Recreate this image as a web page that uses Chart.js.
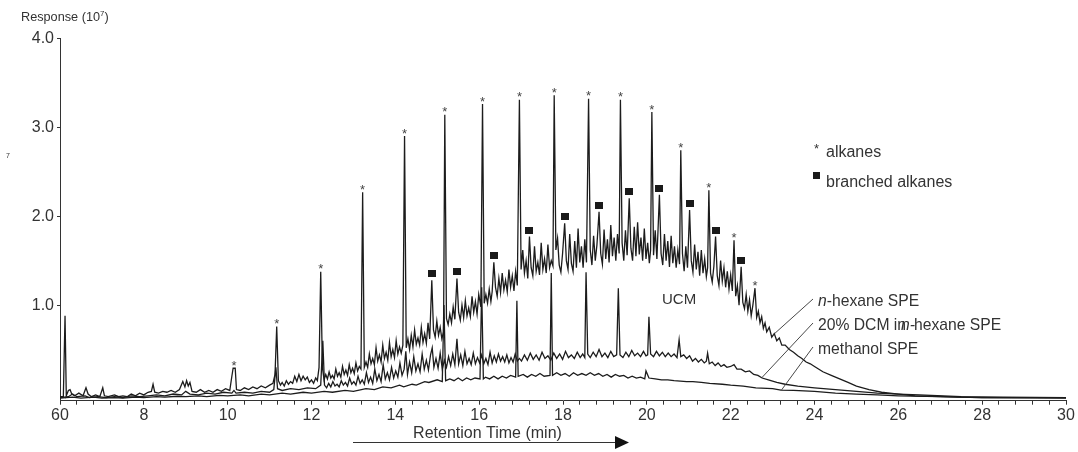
<!DOCTYPE html>
<html><head><meta charset="utf-8">
<script src="https://cdn.jsdelivr.net/npm/chart.js@4.4.1/dist/chart.umd.min.js"></script>
<style>html,body{margin:0;padding:0;background:#fff}#wrap{width:1078px;height:452px}</style>
</head><body><div id="wrap"><canvas id="c" width="1078" height="452"></canvas></div>
<script>
// ---- tick labels ----
const xLabelValues = [6, 8, 10, 12, 14, 16, 18, 20, 22, 24, 26, 28, 30];
const xTickLabels  = ['60', '8', '10', '12', '14', '16', '18', '20', '22', '24', '26', '28', '30'];
const yTickValues  = [1, 2, 3, 4];
const yTickLabels  = ['1.0', '2.0', '3.0', '4.0'];

// ---- series: [retention time (min), response (10^7)] ----
const hexane = [[6.00,-0.03],[6.08,-0.03],[6.12,0.88],[6.15,-0.02],[6.20,0.04],[6.24,0.05],[6.28,0.00],[6.35,-0.02],[6.45,0.01],[6.55,-0.02],[6.62,0.07],[6.67,0.00],[6.75,-0.03],[6.85,-0.01],[6.95,-0.03],[7.02,0.07],[7.06,-0.02],[7.15,-0.03],[7.30,-0.01],[7.40,-0.03],[7.50,-0.02],[7.60,-0.03],[7.70,0.00],[7.80,-0.02],[7.90,0.01],[8.00,-0.01],[8.10,0.02],[8.18,0.03],[8.22,0.11],[8.26,0.02],[8.35,0.01],[8.45,0.03],[8.55,0.02],[8.65,0.04],[8.75,0.02],[8.85,0.05],[8.93,0.14],[8.98,0.08],[9.02,0.15],[9.06,0.09],[9.10,0.13],[9.15,0.03],[9.25,0.02],[9.35,0.05],[9.45,0.02],[9.55,0.04],[9.65,0.02],[9.75,0.05],[9.85,0.03],[9.95,0.06],[10.05,0.04],[10.10,0.20],[10.13,0.29],[10.18,0.29],[10.21,0.05],[10.30,0.04],[10.40,0.07],[10.50,0.05],[10.60,0.08],[10.70,0.06],[10.80,0.09],[10.90,0.07],[11.00,0.10],[11.08,0.12],[11.13,0.22],[11.17,0.76],[11.21,0.15],[11.26,0.10],[11.30,0.13],[11.35,0.09],[11.40,0.15],[11.45,0.11],[11.50,0.14],[11.55,0.12],[11.60,0.20],[11.65,0.14],[11.70,0.22],[11.75,0.15],[11.80,0.20],[11.85,0.16],[11.90,0.19],[11.95,0.13],[12.00,0.16],[12.05,0.12],[12.10,0.18],[12.14,0.15],[12.18,0.30],[12.22,1.375],[12.26,0.30],[12.30,0.16],[12.34,0.22],[12.38,0.17],[12.42,0.25],[12.46,0.18],[12.50,0.21],[12.54,0.17],[12.58,0.28],[12.62,0.20],[12.66,0.24],[12.70,0.19],[12.74,0.31],[12.78,0.22],[12.82,0.27],[12.86,0.21],[12.90,0.33],[12.94,0.24],[12.98,0.29],[13.02,0.23],[13.06,0.35],[13.10,0.26],[13.14,0.31],[13.18,0.28],[13.22,2.27],[13.26,0.30],[13.30,0.36],[13.34,0.30],[13.38,0.45],[13.42,0.34],[13.46,0.40],[13.50,0.33],[13.54,0.52],[13.58,0.37],[13.62,0.44],[13.66,0.36],[13.70,0.55],[13.74,0.40],[13.78,0.47],[13.82,0.38],[13.86,0.58],[13.90,0.42],[13.94,0.50],[13.98,0.41],[14.02,0.60],[14.06,0.45],[14.10,0.53],[14.14,0.46],[14.18,0.55],[14.22,2.90],[14.26,0.52],[14.30,0.62],[14.34,0.50],[14.38,0.66],[14.42,0.53],[14.46,0.72],[14.50,0.56],[14.54,0.63],[14.58,0.55],[14.62,0.75],[14.66,0.58],[14.70,0.68],[14.74,0.57],[14.78,0.80],[14.82,0.62],[14.87,1.28],[14.91,0.72],[14.95,0.64],[14.99,0.82],[15.03,0.66],[15.07,0.75],[15.11,0.62],[15.15,0.70],[15.18,3.14],[15.22,0.85],[15.26,0.78],[15.30,0.90],[15.34,0.80],[15.38,0.98],[15.42,0.84],[15.47,1.30],[15.51,0.92],[15.55,0.83],[15.59,1.00],[15.63,0.86],[15.67,1.05],[15.71,0.88],[15.75,0.97],[15.79,0.87],[15.83,1.10],[15.87,0.92],[15.91,1.04],[15.95,0.90],[15.99,1.12],[16.04,0.98],[16.08,3.26],[16.12,1.02],[16.16,1.12],[16.20,1.02],[16.24,1.18],[16.28,1.04],[16.31,1.15],[16.35,1.48],[16.39,1.20],[16.43,1.10],[16.47,1.30],[16.51,1.14],[16.55,1.36],[16.59,1.17],[16.63,1.28],[16.67,1.15],[16.71,1.40],[16.75,1.20],[16.79,1.33],[16.83,1.16],[16.87,1.38],[16.91,1.22],[16.96,3.31],[17.00,1.40],[17.04,1.62],[17.08,1.36],[17.12,1.50],[17.16,1.30],[17.20,1.77],[17.24,1.42],[17.28,1.33],[17.32,1.66],[17.36,1.38],[17.40,1.48],[17.44,1.34],[17.48,1.70],[17.52,1.40],[17.56,1.52],[17.60,1.36],[17.64,1.68],[17.68,1.42],[17.72,1.50],[17.76,1.44],[17.79,3.36],[17.83,1.62],[17.87,1.75],[17.91,1.45],[17.95,1.37],[17.99,1.58],[18.04,1.92],[18.08,1.50],[18.12,1.40],[18.16,1.80],[18.20,1.47],[18.24,1.38],[18.28,1.72],[18.32,1.42],[18.36,1.86],[18.40,1.48],[18.44,1.66],[18.48,1.42],[18.52,1.74],[18.56,1.48],[18.61,3.32],[18.65,1.62],[18.69,1.45],[18.73,1.78],[18.77,1.50],[18.81,1.68],[18.86,2.05],[18.90,1.58],[18.94,1.46],[18.98,1.85],[19.02,1.52],[19.06,1.74],[19.10,1.48],[19.14,1.90],[19.18,1.55],[19.22,1.76],[19.26,1.50],[19.30,1.80],[19.34,1.58],[19.37,3.31],[19.41,1.70],[19.45,1.50],[19.49,1.84],[19.53,1.56],[19.58,2.20],[19.62,1.64],[19.66,1.50],[19.70,1.88],[19.74,1.55],[19.78,1.93],[19.82,1.57],[19.86,1.76],[19.90,1.50],[19.94,1.86],[19.98,1.52],[20.02,1.70],[20.06,1.47],[20.09,1.62],[20.12,3.17],[20.16,1.56],[20.20,1.84],[20.24,1.52],[20.30,2.24],[20.34,1.58],[20.38,1.45],[20.42,1.80],[20.46,1.50],[20.50,1.72],[20.54,1.43],[20.58,1.78],[20.62,1.47],[20.66,1.66],[20.70,1.42],[20.74,1.62],[20.78,1.46],[20.81,2.74],[20.85,1.58],[20.89,1.38],[20.93,1.66],[20.97,1.42],[21.02,2.07],[21.06,1.50],[21.10,1.37],[21.14,1.68],[21.18,1.40],[21.22,1.60],[21.26,1.33],[21.30,1.62],[21.34,1.36],[21.38,1.52],[21.42,1.32],[21.45,1.42],[21.48,2.29],[21.52,1.36],[21.56,1.26],[21.60,1.44],[21.64,1.77],[21.68,1.33],[21.72,1.22],[21.76,1.50],[21.80,1.27],[21.84,1.42],[21.88,1.20],[21.92,1.38],[21.96,1.18],[22.00,1.34],[22.04,1.16],[22.08,1.73],[22.12,1.10],[22.16,1.22],[22.20,1.00],[22.25,1.43],[22.29,1.03],[22.33,0.96],[22.37,1.12],[22.41,0.93],[22.45,1.06],[22.49,0.88],[22.53,1.00],[22.58,1.19],[22.62,0.86],[22.66,0.93],[22.70,0.80],[22.74,0.87],[22.78,0.74],[22.82,0.80],[22.86,0.70],[22.92,0.75],[22.98,0.64],[23.04,0.68],[23.10,0.60],[23.16,0.63],[23.22,0.55],[23.30,0.55],[23.40,0.50],[23.50,0.47],[23.60,0.43],[23.70,0.40],[23.80,0.36],[23.90,0.34],[24.00,0.31],[24.20,0.25],[24.40,0.21],[24.60,0.17],[24.80,0.13],[25.00,0.09],[25.30,0.05],[25.60,0.02],[26.00,0.00],[26.40,-0.02],[26.80,-0.025],[27.40,-0.035],[28.00,-0.04],[29.00,-0.04],[30.00,-0.04]];

const dcm = [[6.00,-0.04],[6.20,-0.03],[6.30,0.00],[6.40,-0.03],[6.60,-0.02],[6.70,-0.04],[6.90,-0.03],[7.10,-0.04],[7.30,-0.03],[7.50,-0.04],[7.70,-0.02],[7.90,-0.03],[8.10,-0.02],[8.30,-0.01],[8.50,-0.02],[8.70,0.00],[8.90,-0.01],[9.00,0.03],[9.10,0.00],[9.30,-0.01],[9.50,0.01],[9.70,0.00],[9.90,0.02],[10.10,0.01],[10.15,0.04],[10.20,0.01],[10.40,0.02],[10.60,0.01],[10.80,0.03],[11.00,0.02],[11.10,0.05],[11.15,0.30],[11.19,0.06],[11.30,0.04],[11.50,0.06],[11.70,0.05],[11.90,0.07],[12.10,0.06],[12.22,0.10],[12.27,0.60],[12.31,0.10],[12.36,0.07],[12.41,0.12],[12.46,0.08],[12.51,0.14],[12.56,0.09],[12.61,0.11],[12.66,0.08],[12.71,0.15],[12.76,0.10],[12.81,0.13],[12.86,0.09],[12.91,0.18],[12.96,0.11],[13.01,0.14],[13.06,0.10],[13.11,0.20],[13.16,0.12],[13.21,0.16],[13.26,0.11],[13.31,0.24],[13.36,0.13],[13.41,0.19],[13.46,0.12],[13.51,0.28],[13.56,0.15],[13.61,0.22],[13.66,0.14],[13.71,0.33],[13.76,0.17],[13.81,0.24],[13.86,0.16],[13.91,0.30],[13.96,0.18],[14.01,0.26],[14.06,0.19],[14.11,0.35],[14.16,0.21],[14.21,0.28],[14.25,0.48],[14.29,0.22],[14.34,0.36],[14.39,0.24],[14.44,0.42],[14.49,0.26],[14.54,0.34],[14.59,0.25],[14.64,0.45],[14.69,0.28],[14.74,0.38],[14.79,0.27],[14.84,0.44],[14.88,0.52],[14.92,0.30],[14.97,0.40],[15.02,0.29],[15.07,0.46],[15.12,0.28],[15.17,0.38],[15.22,0.30],[15.27,0.42],[15.32,0.32],[15.37,0.45],[15.42,0.33],[15.47,0.62],[15.51,0.34],[15.56,0.44],[15.61,0.32],[15.66,0.48],[15.71,0.34],[15.76,0.40],[15.81,0.33],[15.86,0.46],[15.91,0.34],[15.96,0.41],[16.01,0.35],[16.06,0.44],[16.11,0.34],[16.16,0.40],[16.21,0.33],[16.26,0.47],[16.31,0.35],[16.36,0.43],[16.41,0.36],[16.46,0.45],[16.51,0.37],[16.56,0.42],[16.61,0.36],[16.66,0.44],[16.71,0.35],[16.76,0.41],[16.81,0.36],[16.86,0.45],[16.91,0.37],[16.96,0.40],[17.01,0.37],[17.08,0.44],[17.15,0.38],[17.22,0.46],[17.29,0.39],[17.36,0.44],[17.43,0.38],[17.50,0.47],[17.57,0.40],[17.64,0.43],[17.71,0.38],[17.78,0.46],[17.85,0.40],[17.92,0.45],[17.99,0.39],[18.06,0.48],[18.13,0.41],[18.20,0.44],[18.27,0.40],[18.34,0.47],[18.41,0.41],[18.47,0.45],[18.52,0.41],[18.55,1.37],[18.59,0.45],[18.65,0.41],[18.72,0.47],[18.79,0.42],[18.86,0.50],[18.93,0.42],[19.00,0.46],[19.07,0.41],[19.14,0.48],[19.21,0.42],[19.28,0.44],[19.32,1.19],[19.36,0.44],[19.43,0.41],[19.50,0.47],[19.57,0.42],[19.64,0.49],[19.71,0.43],[19.78,0.46],[19.85,0.42],[19.92,0.48],[19.98,0.43],[20.02,0.44],[20.05,0.87],[20.09,0.45],[20.16,0.42],[20.23,0.48],[20.30,0.43],[20.37,0.47],[20.44,0.42],[20.51,0.46],[20.58,0.42],[20.65,0.45],[20.72,0.41],[20.77,0.61],[20.81,0.42],[20.88,0.44],[20.95,0.40],[21.02,0.43],[21.09,0.37],[21.16,0.40],[21.23,0.36],[21.30,0.39],[21.37,0.35],[21.42,0.37],[21.45,0.46],[21.49,0.34],[21.56,0.36],[21.63,0.32],[21.70,0.35],[21.77,0.31],[21.84,0.33],[21.91,0.30],[22.00,0.31],[22.08,0.33],[22.15,0.28],[22.25,0.28],[22.35,0.25],[22.45,0.26],[22.55,0.22],[22.65,0.21],[22.75,0.18],[22.90,0.16],[23.10,0.13],[23.30,0.11],[23.60,0.09],[24.00,0.07],[24.50,0.05],[25.00,0.03],[25.50,0.01],[26.00,0.00],[26.50,-0.01],[27.50,-0.03],[28.50,-0.035],[30.00,-0.04]];

const methanol = [[6.00,-0.045],[6.30,-0.035],[6.50,-0.045],[6.80,-0.035],[7.00,-0.045],[7.30,-0.04],[7.50,-0.045],[7.80,-0.035],[8.00,-0.04],[8.30,-0.03],[8.50,-0.035],[8.80,-0.025],[9.00,-0.03],[9.30,-0.02],[9.50,-0.03],[9.80,-0.015],[10.00,-0.02],[10.30,-0.01],[10.50,-0.02],[10.80,0.00],[11.00,-0.01],[11.30,0.01],[11.50,0.00],[11.80,0.02],[12.00,0.01],[12.30,0.03],[12.50,0.02],[12.80,0.04],[13.00,0.03],[13.30,0.06],[13.50,0.05],[13.70,0.08],[13.90,0.07],[14.10,0.10],[14.20,0.08],[14.40,0.11],[14.50,0.10],[14.70,0.14],[14.80,0.13],[15.00,0.16],[15.12,0.14],[15.16,1.00],[15.20,0.15],[15.30,0.17],[15.40,0.15],[15.50,0.18],[15.60,0.15],[15.70,0.18],[15.80,0.16],[15.90,0.18],[16.02,0.17],[16.06,1.20],[16.10,0.17],[16.15,0.19],[16.25,0.17],[16.35,0.20],[16.45,0.17],[16.55,0.20],[16.65,0.18],[16.75,0.21],[16.87,0.19],[16.90,1.05],[16.93,0.20],[17.05,0.22],[17.15,0.19],[17.25,0.22],[17.35,0.20],[17.45,0.23],[17.55,0.20],[17.69,0.21],[17.72,1.36],[17.75,0.21],[17.85,0.24],[17.95,0.21],[18.05,0.23],[18.15,0.20],[18.25,0.24],[18.35,0.21],[18.45,0.23],[18.55,0.21],[18.65,0.24],[18.75,0.21],[18.85,0.23],[18.95,0.20],[19.05,0.22],[19.15,0.19],[19.25,0.22],[19.35,0.20],[19.45,0.21],[19.55,0.18],[19.65,0.20],[19.75,0.18],[19.85,0.19],[19.95,0.17],[19.98,0.26],[20.05,0.18],[20.20,0.17],[20.35,0.16],[20.50,0.16],[20.65,0.15],[20.80,0.145],[20.95,0.14],[21.10,0.14],[21.30,0.13],[21.50,0.12],[21.80,0.11],[22.00,0.10],[22.30,0.09],[22.60,0.07],[23.00,0.06],[23.20,0.045],[23.50,0.04],[24.00,0.03],[24.50,0.01],[25.00,0.00],[25.50,-0.01],[26.00,-0.02],[27.00,-0.03],[28.00,-0.04],[30.00,-0.045]];

// ---- peak markers ----
const alkaneT = [10.15, 11.17, 12.22, 13.22, 14.22, 15.18, 16.08, 16.96, 17.79, 18.61, 19.37, 20.12, 20.81, 21.48, 22.08, 22.58];
const alkaneH = [0.29, 0.76, 1.375, 2.27, 2.90, 3.14, 3.26, 3.31, 3.36, 3.32, 3.31, 3.17, 2.74, 2.29, 1.73, 1.19];
const branchT = [14.87, 15.47, 16.35, 17.20, 18.04, 18.86, 19.58, 20.30, 21.02, 21.64, 22.25];
const branchH = [1.28, 1.30, 1.48, 1.77, 1.92, 2.05, 2.20, 2.24, 2.07, 1.77, 1.43];

const FONT = '"Liberation Sans", Arial, Helvetica, sans-serif';
const INK = '#333';
const LINE = '#1c1c1c';

const toXY = arr => arr.map(p => ({x: p[0], y: p[1]}));
const lineDs = (label, arr) => ({label, data: toXY(arr), borderColor: LINE, borderWidth: 1.3, pointRadius: 0, tension: 0, fill: false});

const overlay = {
  id: 'overlay',
  afterDatasetsDraw(chart) {
    const {ctx} = chart;
    const xs = chart.scales.x, ys = chart.scales.y;
    ctx.save();
    ctx.fillStyle = '#444';
    ctx.font = '13px ' + FONT;
    ctx.textAlign = 'center';
    ctx.textBaseline = 'alphabetic';
    alkaneT.forEach((t, i) => {
      const px = xs.getPixelForValue(t), py = ys.getPixelForValue(alkaneH[i]);
      ctx.fillText('*', px, py - 6 + 7.4);
    });
    ctx.fillStyle = '#1a1a1a';
    branchT.forEach((t, i) => {
      const px = xs.getPixelForValue(t), py = ys.getPixelForValue(branchH[i]);
      ctx.fillRect(Math.round(px - 4), Math.round(py - 10), 8, 7);
    });
    ctx.restore();
  },
  afterDraw(chart) {
    const {ctx} = chart;
    ctx.save();
    ctx.fillStyle = INK;
    ctx.strokeStyle = INK;
    ctx.textAlign = 'left';
    ctx.textBaseline = 'alphabetic';
    ctx.font = '12.7px ' + FONT;
    ctx.fillText('Response (10', 21, 20.7);
    let w = ctx.measureText('Response (10').width;
    ctx.font = '8px ' + FONT;
    ctx.fillText('7', 21 + w, 15.5);
    let w2 = ctx.measureText('7').width;
    ctx.font = '12.7px ' + FONT;
    ctx.fillText(')', 21 + w + w2, 20.7);
    ctx.font = '7px ' + FONT;
    ctx.fillText('7', 6, 158);
    ctx.font = '16px ' + FONT;
    ctx.textAlign = 'center';
    ctx.fillText('Retention Time (min)', 487.5, 438.3);
    ctx.lineWidth = 1;
    ctx.beginPath(); ctx.moveTo(353, 442.5); ctx.lineTo(616, 442.5); ctx.stroke();
    ctx.fillStyle = '#111';
    ctx.beginPath(); ctx.moveTo(615, 436); ctx.lineTo(629, 442.5); ctx.lineTo(615, 449); ctx.closePath(); ctx.fill();
    ctx.fillStyle = INK;
    ctx.font = '15px ' + FONT;
    ctx.textAlign = 'left';
    ctx.fillText('UCM', 662, 304);
    ctx.font = '13px ' + FONT;
    ctx.fillText('*', 814, 153);
    ctx.font = '16px ' + FONT;
    ctx.fillText('alkanes', 826, 156.7);
    ctx.fillText('branched alkanes', 826, 186.7);
    ctx.fillStyle = '#1a1a1a';
    ctx.fillRect(813, 172, 7, 7);
    ctx.fillStyle = INK;
    const f = '15.7px ' + FONT, fi = 'italic 15.7px ' + FONT;
    ctx.font = fi; ctx.fillText('n', 818, 306);
    let nw = ctx.measureText('n').width;
    ctx.font = f; ctx.fillText('-hexane SPE', 818 + nw, 306);
    ctx.fillText('20% DCM in', 818, 330);
    ctx.font = fi; ctx.fillText('n-', 901, 330);
    ctx.font = f; ctx.fillText('hexane SPE', 914, 330);
    ctx.fillText('methanol SPE', 818, 354);
    ctx.lineWidth = 0.9;
    ctx.beginPath();
    ctx.moveTo(813, 299); ctx.lineTo(773, 335);
    ctx.moveTo(813, 323); ctx.lineTo(761.5, 378);
    ctx.moveTo(813, 347); ctx.lineTo(781.5, 390);
    ctx.stroke();
    ctx.restore();
  }
};

new Chart(document.getElementById('c'), {
  type: 'line',
  data: {datasets: [lineDs('methanol SPE', methanol), lineDs('20% DCM in n-hexane SPE', dcm), lineDs('n-hexane SPE', hexane)]},
  options: {
    responsive: false,
    animation: false,
    devicePixelRatio: 1,
    layout: {padding: {top: 38.3, right: 12, left: 0, bottom: 0}},
    plugins: {legend: {display: false}, tooltip: {enabled: false}},
    scales: {
      x: {
        type: 'linear', min: 6, max: 30,
        afterBuildTicks: s => { const t = []; for (let i = 0; i <= 60; i++) t.push({value: Math.round((6 + i * 0.4) * 10) / 10}); s.ticks = t; },
        afterFit: s => { s.height = 452 - 400.7; },
        grid: {drawOnChartArea: false, drawTicks: true, tickLength: 4, color: INK, lineWidth: 1},
        border: {display: true, color: INK, width: 1},
        ticks: {
          autoSkip: false, maxRotation: 0, minRotation: 0, padding: 1,
          color: INK, font: {family: FONT, size: 16},
          callback: v => { const k = xLabelValues.indexOf(Math.round(v * 10) / 10); return k >= 0 ? xTickLabels[k] : ''; }
        }
      },
      y: {
        type: 'linear', min: -0.075, max: 4.0,
        afterBuildTicks: s => { s.ticks = yTickValues.map(v => ({value: v})); },
        afterFit: s => { s.width = 60; },
        grid: {drawOnChartArea: false, drawTicks: true, tickLength: 3, color: INK, lineWidth: 1},
        border: {display: true, color: INK, width: 1},
        ticks: {
          padding: 3, color: INK, font: {family: FONT, size: 16},
          callback: v => { const k = yTickValues.indexOf(v); return k >= 0 ? yTickLabels[k] : ''; }
        }
      }
    }
  },
  plugins: [overlay]
});
</script>
</body></html>
